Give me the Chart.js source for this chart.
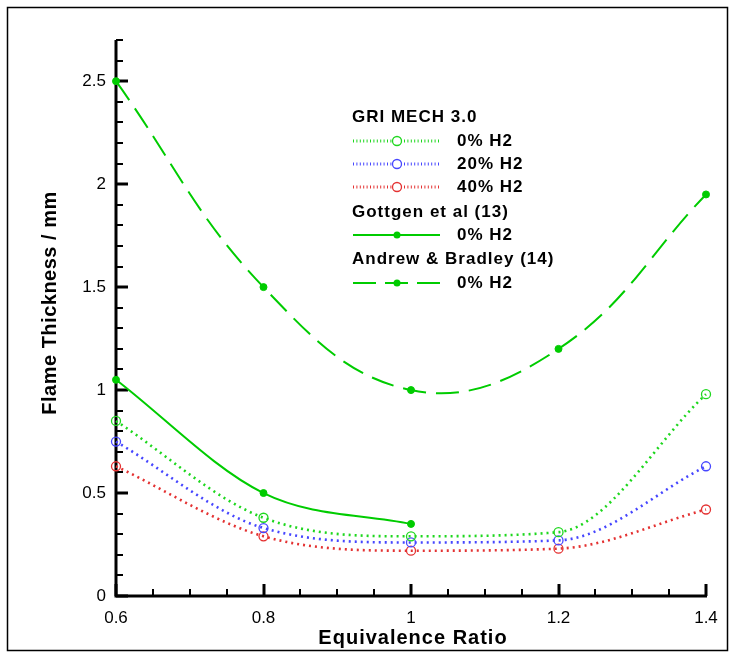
<!DOCTYPE html>
<html>
<head>
<meta charset="utf-8">
<script src="https://cdn.jsdelivr.net/npm/chart.js@4.4.1/dist/chart.umd.min.js"></script>
<style>
html,body{margin:0;padding:0;background:#fff;}
#wrap{position:relative;width:733px;height:657px;}
</style>
</head>
<body>
<div id="wrap"><canvas id="c" width="733" height="657"></canvas></div>
<script>
const phi = [0.6, 0.8, 1.0, 1.2, 1.4];
const gri0 = [0.85, 0.38, 0.29, 0.31, 0.98];
const gri20 = [0.75, 0.33, 0.26, 0.27, 0.63];
const gri40 = [0.63, 0.29, 0.22, 0.23, 0.42];
const gottgenPhi = [0.6, 0.8, 1.0];
const gottgen0 = [1.05, 0.5, 0.35];
const andrew0 = [2.5, 1.5, 1.0, 1.2, 1.95];
const xTickLabels = ['0.6', '0.8', '1', '1.2', '1.4'];
const yTickLabels = ['0', '0.5', '1', '1.5', '2', '2.5'];

const GREEN = 'rgb(0,204,0)';
const GREEN_L = 'rgb(30,215,30)';
const BLUE = 'rgb(70,70,255)';
const RED = 'rgb(228,50,50)';

const pts = (xs, ys) => xs.map((x, i) => ({x: x, y: ys[i]}));

const datasets = [
  {label: 'GRI 0% H2', data: pts(phi, gri0), borderColor: GREEN_L, borderWidth: 2.6, borderDash: [2, 4],
   cubicInterpolationMode: 'monotone',
   pointStyle: 'circle', pointRadius: 4.5, pointBackgroundColor: 'rgba(0,0,0,0)', pointBorderColor: GREEN_L, pointBorderWidth: 1.3},
  {label: 'GRI 20% H2', data: pts(phi, gri20), borderColor: BLUE, borderWidth: 2.6, borderDash: [2, 4],
   cubicInterpolationMode: 'monotone',
   pointStyle: 'circle', pointRadius: 4.5, pointBackgroundColor: 'rgba(0,0,0,0)', pointBorderColor: BLUE, pointBorderWidth: 1.3},
  {label: 'GRI 40% H2', data: pts(phi, gri40), borderColor: RED, borderWidth: 2.6, borderDash: [2, 4],
   cubicInterpolationMode: 'monotone',
   pointStyle: 'circle', pointRadius: 4.5, pointBackgroundColor: 'rgba(0,0,0,0)', pointBorderColor: RED, pointBorderWidth: 1.3},
  {label: 'Gottgen 0% H2', data: pts(gottgenPhi, gottgen0), borderColor: GREEN, borderWidth: 2,
   cubicInterpolationMode: 'monotone',
   pointStyle: 'circle', pointRadius: 3.5, pointBackgroundColor: GREEN, pointBorderColor: GREEN, pointBorderWidth: 1},
  {label: 'Andrew 0% H2', data: pts(phi, andrew0), borderColor: GREEN, borderWidth: 2, borderDash: [23, 10],
   pointStyle: 'circle', pointRadius: 3.5, pointBackgroundColor: GREEN, pointBorderColor: GREEN, pointBorderWidth: 1}
];
datasets.forEach(d => { d.showLine = true; d.tension = 0.4; d.clip = false; d.fill = false; });

const FONT = '"Liberation Sans", Arial, sans-serif';

const axesPlugin = {
  id: 'axesPlugin',
  beforeDatasetsDraw(chart) {
    const ctx = chart.ctx;
    const xs = chart.scales.x, ys = chart.scales.y;
    const x0 = xs.getPixelForValue(0.6), x1 = xs.getPixelForValue(1.4);
    const y0 = ys.getPixelForValue(0), y1 = ys.getPixelForValue(2.7);
    ctx.save();
    ctx.strokeStyle = '#000';
    ctx.lineCap = 'butt';
    for (let i = 0; i <= 27; i++) {
      const v = i / 10;
      const py = Math.round(ys.getPixelForValue(v));
      const major = (i % 5 === 0);
      ctx.lineWidth = major ? 3 : 2;
      ctx.beginPath();
      ctx.moveTo(x0, py);
      ctx.lineTo(x0 + (major ? 12 : 7), py);
      ctx.stroke();
    }
    for (let i = 0; i <= 16; i++) {
      const v = 0.6 + i * 0.05;
      const px = Math.round(xs.getPixelForValue(v));
      const major = (i % 4 === 0);
      ctx.lineWidth = major ? 3 : 2;
      ctx.beginPath();
      ctx.moveTo(px, y0);
      ctx.lineTo(px, y0 - (major ? 12 : 7));
      ctx.stroke();
    }
    ctx.lineWidth = 3;
    ctx.beginPath();
    ctx.moveTo(x0, y1);
    ctx.lineTo(x0, y0);
    ctx.lineTo(x1 + 1, y0);
    ctx.stroke();
    ctx.restore();
  },
  afterDraw(chart) {
    const ctx = chart.ctx;
    ctx.save();
    ctx.strokeStyle = '#000';
    ctx.lineWidth = 1.5;
    ctx.strokeRect(7.5, 7.5, 720, 643);
    ctx.fillStyle = '#000';
    ctx.textAlign = 'center';
    ctx.textBaseline = 'middle';
    ctx.font = 'bold 20px ' + FONT;
    ctx.letterSpacing = '1px';
    ctx.fillText('Equivalence Ratio', 413, 638);
    ctx.letterSpacing = '0.5px';
    ctx.save();
    ctx.translate(50, 303);
    ctx.rotate(-Math.PI / 2);
    ctx.fillText('Flame Thickness / mm', 0, 0);
    ctx.restore();
    ctx.font = 'bold 17px ' + FONT;
    ctx.letterSpacing = '1px';
    ctx.textAlign = 'left';
    const hx = 352, tx = 457, lx0 = 353, lx1 = 440, mx = 397;
    const rows = [
      {type: 'head', text: 'GRI MECH 3.0', y: 117},
      {type: 'entry', text: '0% H2', y: 141, color: GREEN_L, dash: [1, 2.4], w: 3, open: true},
      {type: 'entry', text: '20% H2', y: 164, color: BLUE, dash: [1, 2.4], w: 3, open: true},
      {type: 'entry', text: '40% H2', y: 187, color: RED, dash: [1, 2.4], w: 3, open: true},
      {type: 'head', text: 'Gottgen et al (13)', y: 212},
      {type: 'entry', text: '0% H2', y: 235, color: GREEN, dash: [], w: 2, open: false},
      {type: 'head', text: 'Andrew & Bradley (14)', y: 259},
      {type: 'entry', text: '0% H2', y: 283, color: GREEN, dash: [23, 9], w: 2, open: false}
    ];
    rows.forEach(r => {
      ctx.fillStyle = '#000';
      if (r.type === 'head') {
        ctx.fillText(r.text, hx, r.y);
      } else {
        ctx.fillText(r.text, tx, r.y);
        ctx.strokeStyle = r.color;
        ctx.lineWidth = r.w;
        ctx.setLineDash(r.dash);
        ctx.beginPath();
        ctx.moveTo(lx0, r.y);
        ctx.lineTo(lx1, r.y);
        ctx.stroke();
        ctx.setLineDash([]);
        ctx.beginPath();
        if (r.open) {
          ctx.lineWidth = 1.3;
          ctx.fillStyle = '#fff';
          ctx.arc(mx, r.y, 4.5, 0, Math.PI * 2);
          ctx.fill();
          ctx.stroke();
        } else {
          ctx.fillStyle = r.color;
          ctx.arc(mx, r.y, 3.5, 0, Math.PI * 2);
          ctx.fill();
        }
      }
    });
    ctx.restore();
  }
};

new Chart(document.getElementById('c'), {
  type: 'scatter',
  data: {datasets: datasets},
  options: {
    responsive: false,
    animation: false,
    devicePixelRatio: 1,
    layout: {padding: {left: 0, top: 40, right: 27, bottom: 0}},
    plugins: {legend: {display: false}, tooltip: {enabled: false}},
    scales: {
      x: {
        type: 'linear', min: 0.6, max: 1.4,
        border: {display: false},
        grid: {display: false, drawTicks: false},
        afterFit(s) { s.height = 61; },
        afterBuildTicks(s) { s.ticks = phi.map(v => ({value: v})); },
        ticks: {
          padding: 12, color: '#000', maxRotation: 0, autoSkip: false,
          font: {family: FONT, size: 17},
          callback: (v, i) => xTickLabels[i]
        }
      },
      y: {
        type: 'linear', min: 0, max: 2.7,
        border: {display: false},
        grid: {display: false, drawTicks: false},
        afterFit(s) { s.width = 116; },
        afterBuildTicks(s) { s.ticks = yTickLabels.map(t => ({value: parseFloat(t)})); },
        ticks: {
          padding: 10, color: '#000', autoSkip: false,
          font: {family: FONT, size: 17},
          callback: (v, i) => yTickLabels[i]
        }
      }
    }
  },
  plugins: [axesPlugin]
});
</script>
</body>
</html>
